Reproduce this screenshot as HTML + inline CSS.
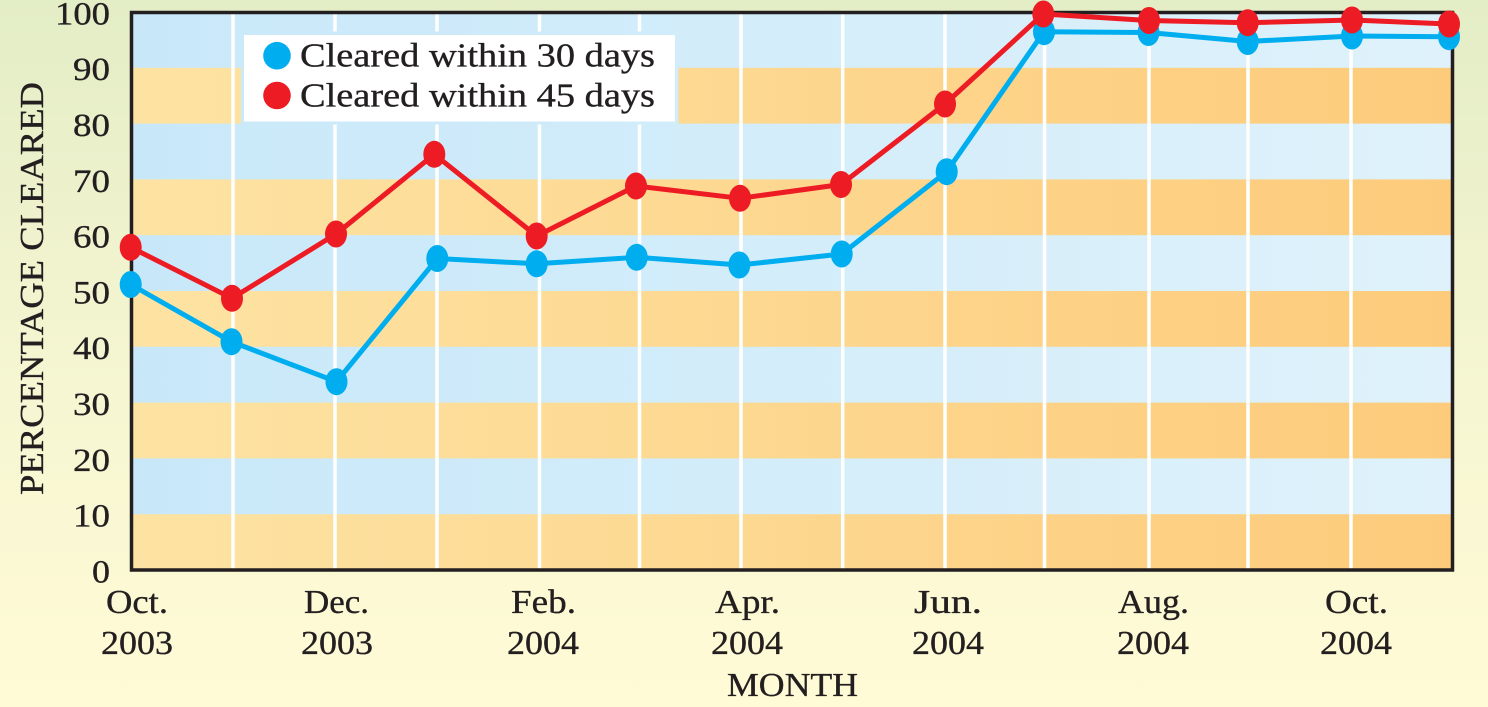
<!DOCTYPE html>
<html>
<head>
<meta charset="utf-8">
<style>
html,body{margin:0;padding:0;width:1488px;height:707px;overflow:hidden;}
svg{display:block;}
text{font-family:"Liberation Serif","DejaVu Serif",serif;fill:#231f20;stroke:#231f20;stroke-width:0.35;}
</style>
</head>
<body>
<svg width="1488" height="707" viewBox="0 0 1488 707" xmlns="http://www.w3.org/2000/svg">
<defs>
  <linearGradient id="bg" x1="0" y1="0" x2="0" y2="707" gradientUnits="userSpaceOnUse">
    <stop offset="0" stop-color="#e3edc6"/>
    <stop offset="0.55" stop-color="#f6f6d2"/>
    <stop offset="1" stop-color="#fffbd6"/>
  </linearGradient>
  <linearGradient id="blue" x1="131" y1="0" x2="1453" y2="0" gradientUnits="userSpaceOnUse">
    <stop offset="0" stop-color="#c8e8f9"/>
    <stop offset="1" stop-color="#dff2fb"/>
  </linearGradient>
  <linearGradient id="orange" x1="131" y1="0" x2="1453" y2="0" gradientUnits="userSpaceOnUse">
    <stop offset="0" stop-color="#fde3a3"/>
    <stop offset="1" stop-color="#fdcb7b"/>
  </linearGradient>
</defs>

<rect x="0" y="0" width="1488" height="707" fill="url(#bg)"/>

<!-- bands -->
<rect x="131.5" y="12.5" width="1321" height="558" fill="url(#blue)"/>
<rect x="131.5" y="514.2" width="1321" height="55.8" fill="url(#orange)"/>
<rect x="131.5" y="402.6" width="1321" height="55.8" fill="url(#orange)"/>
<rect x="131.5" y="291" width="1321" height="55.8" fill="url(#orange)"/>
<rect x="131.5" y="179.4" width="1321" height="55.8" fill="url(#orange)"/>
<rect x="131.5" y="67.8" width="1321" height="55.8" fill="url(#orange)"/>

<!-- vertical white grid lines -->
<g stroke="#ffffff" stroke-width="3.5">
  <line x1="233" y1="12" x2="233" y2="570"/>
  <line x1="335" y1="12" x2="335" y2="570"/>
  <line x1="437" y1="12" x2="437" y2="570"/>
  <line x1="539.5" y1="12" x2="539.5" y2="570"/>
  <line x1="639.5" y1="12" x2="639.5" y2="570"/>
  <line x1="741" y1="12" x2="741" y2="570"/>
  <line x1="842.7" y1="12" x2="842.7" y2="570"/>
  <line x1="945" y1="12" x2="945" y2="570"/>
  <line x1="1044.5" y1="12" x2="1044.5" y2="570"/>
  <line x1="1149" y1="12" x2="1149" y2="570"/>
  <line x1="1248" y1="12" x2="1248" y2="570"/>
  <line x1="1351" y1="12" x2="1351" y2="570"/>
</g>

<!-- legend -->
<rect x="241" y="31.5" width="437.5" height="93" fill="url(#blue)"/>
<rect x="244" y="35" width="431" height="86.5" fill="#ffffff"/>
<circle cx="277" cy="55.7" r="13.8" fill="#00aeef"/>
<circle cx="277" cy="95.5" r="13.8" fill="#ed1c24"/>
<text x="300" y="66.7" font-size="34" textLength="355" lengthAdjust="spacingAndGlyphs">Cleared within 30 days</text>
<text x="300" y="106.7" font-size="34" textLength="355" lengthAdjust="spacingAndGlyphs">Cleared within 45 days</text>

<!-- frame -->
<rect x="131.5" y="12.5" width="1321" height="557.5" fill="none" stroke="#231f20" stroke-width="3.5"/>

<!-- blue series -->
<polyline fill="none" stroke="#00aeef" stroke-width="5" stroke-linejoin="round"
  points="130.7,284.5 231.5,341.7 336.5,381.7 437.3,258.5 536.7,263.8 636.7,257.3 739.3,265 841.7,254 946.7,171.7 1044,31.7 1148.5,32.5 1247.7,41.5 1352,36 1449,36.7"/>
<g fill="#00aeef">
  <ellipse cx="130.7" cy="284.5" rx="11" ry="13.5"/>
  <ellipse cx="231.5" cy="341.7" rx="11" ry="13.5"/>
  <ellipse cx="336.5" cy="381.7" rx="11" ry="13.5"/>
  <ellipse cx="437.3" cy="258.5" rx="11" ry="13.5"/>
  <ellipse cx="536.7" cy="263.8" rx="11" ry="13.5"/>
  <ellipse cx="636.7" cy="257.3" rx="11" ry="13.5"/>
  <ellipse cx="739.3" cy="265" rx="11" ry="13.5"/>
  <ellipse cx="841.7" cy="254" rx="11" ry="13.5"/>
  <ellipse cx="946.7" cy="171.7" rx="11" ry="13.5"/>
  <ellipse cx="1044" cy="31.7" rx="11" ry="13.5"/>
  <ellipse cx="1148.5" cy="32.5" rx="11" ry="13.5"/>
  <ellipse cx="1247.7" cy="41.5" rx="11" ry="13.5"/>
  <ellipse cx="1352" cy="36" rx="11" ry="13.5"/>
  <ellipse cx="1449" cy="36.7" rx="11" ry="13.5"/>
</g>

<!-- red series -->
<polyline fill="none" stroke="#ed1c24" stroke-width="5" stroke-linejoin="round"
  points="130.7,247.3 232,298.3 336,234 434.3,154.3 536.7,236 636,186 740,198.3 841,184.5 945,104 1043.3,14 1149,20.5 1247.7,22.7 1352,20 1449,24"/>
<g fill="#ed1c24">
  <ellipse cx="130.7" cy="247.3" rx="11" ry="13.5"/>
  <ellipse cx="232" cy="298.3" rx="11" ry="13.5"/>
  <ellipse cx="336" cy="234" rx="11" ry="13.5"/>
  <ellipse cx="434.3" cy="154.3" rx="11" ry="13.5"/>
  <ellipse cx="536.7" cy="236" rx="11" ry="13.5"/>
  <ellipse cx="636" cy="186" rx="11" ry="13.5"/>
  <ellipse cx="740" cy="198.3" rx="11" ry="13.5"/>
  <ellipse cx="841" cy="184.5" rx="11" ry="13.5"/>
  <ellipse cx="945" cy="104" rx="11" ry="13.5"/>
  <ellipse cx="1043.3" cy="14" rx="11" ry="13.5"/>
  <ellipse cx="1149" cy="20.5" rx="11" ry="13.5"/>
  <ellipse cx="1247.7" cy="22.7" rx="11" ry="13.5"/>
  <ellipse cx="1352" cy="20" rx="11" ry="13.5"/>
  <ellipse cx="1449" cy="24" rx="11" ry="13.5"/>
</g>

<!-- y tick labels -->
<g font-size="33">
  <text x="55" y="24.4" textLength="55" lengthAdjust="spacingAndGlyphs">100</text>
  <text x="73" y="80.2" textLength="37" lengthAdjust="spacingAndGlyphs">90</text>
  <text x="73" y="136" textLength="37" lengthAdjust="spacingAndGlyphs">80</text>
  <text x="73" y="191.8" textLength="37" lengthAdjust="spacingAndGlyphs">70</text>
  <text x="73" y="247.6" textLength="37" lengthAdjust="spacingAndGlyphs">60</text>
  <text x="73" y="303.4" textLength="37" lengthAdjust="spacingAndGlyphs">50</text>
  <text x="73" y="359.2" textLength="37" lengthAdjust="spacingAndGlyphs">40</text>
  <text x="73" y="415" textLength="37" lengthAdjust="spacingAndGlyphs">30</text>
  <text x="73" y="470.8" textLength="37" lengthAdjust="spacingAndGlyphs">20</text>
  <text x="73" y="526.6" textLength="37" lengthAdjust="spacingAndGlyphs">10</text>
  <text x="92" y="582.4" textLength="18" lengthAdjust="spacingAndGlyphs">0</text>
</g>

<!-- y axis title -->
<text transform="translate(43,495) rotate(-90)" x="0" y="0" font-size="34" textLength="413" lengthAdjust="spacingAndGlyphs">PERCENTAGE CLEARED</text>

<!-- x tick labels -->
<g font-size="34">
  <text x="106" y="613" textLength="62" lengthAdjust="spacingAndGlyphs">Oct.</text>
  <text x="101" y="654" textLength="72" lengthAdjust="spacingAndGlyphs">2003</text>
  <text x="304" y="613" textLength="65" lengthAdjust="spacingAndGlyphs">Dec.</text>
  <text x="301" y="654" textLength="72" lengthAdjust="spacingAndGlyphs">2003</text>
  <text x="511" y="613" textLength="65" lengthAdjust="spacingAndGlyphs">Feb.</text>
  <text x="507" y="654" textLength="72" lengthAdjust="spacingAndGlyphs">2004</text>
  <text x="715" y="613" textLength="65" lengthAdjust="spacingAndGlyphs">Apr.</text>
  <text x="711" y="654" textLength="72" lengthAdjust="spacingAndGlyphs">2004</text>
  <text x="914" y="613" textLength="68" lengthAdjust="spacingAndGlyphs">Jun.</text>
  <text x="912" y="654" textLength="72" lengthAdjust="spacingAndGlyphs">2004</text>
  <text x="1118" y="613" textLength="71" lengthAdjust="spacingAndGlyphs">Aug.</text>
  <text x="1117" y="654" textLength="72" lengthAdjust="spacingAndGlyphs">2004</text>
  <text x="1325" y="613" textLength="63" lengthAdjust="spacingAndGlyphs">Oct.</text>
  <text x="1320" y="654" textLength="72" lengthAdjust="spacingAndGlyphs">2004</text>
</g>

<!-- x axis title -->
<text x="727" y="696" font-size="34" textLength="131" lengthAdjust="spacingAndGlyphs">MONTH</text>
</svg>
</body>
</html>
